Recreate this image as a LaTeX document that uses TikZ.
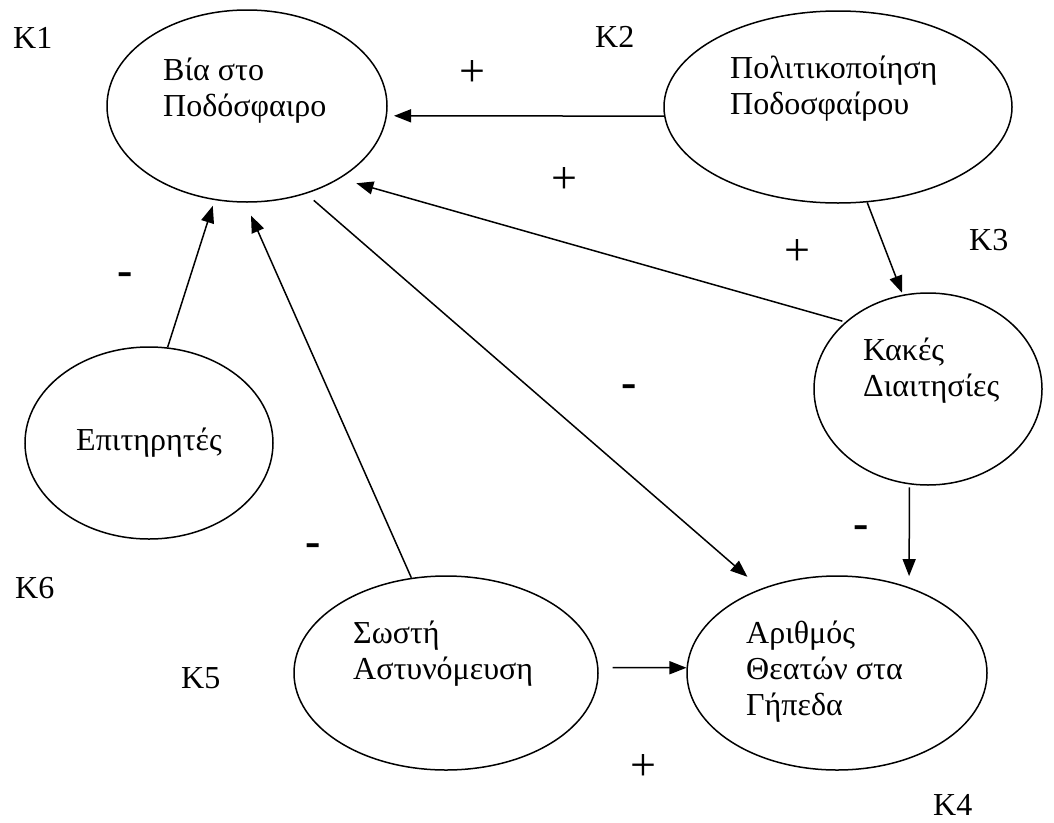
\documentclass[tikz,border=0pt]{standalone}
\usepackage{fontspec}
\setmainfont{Liberation Serif}
\usetikzlibrary{arrows.meta,shapes.geometric}
\begin{document}
\begin{tikzpicture}[x=1pt,y=-1pt,
  ell/.style={draw, ellipse, line width=1.5pt, inner sep=0pt},
  conn/.style={line width=1.5pt, -{Triangle[length=17pt,width=13pt]}},
  txt/.style={anchor=base west, inner sep=0pt, font=\fontsize{32}{36}\selectfont},
  klab/.style={anchor=base west, inner sep=0pt, font=\fontsize{32}{36}\selectfont},
  plussign/.style={inner sep=0pt, font=\fontsize{46}{50}\selectfont},
  minussign/.style={inner sep=0pt, font=\fontsize{46}{50}\selectfont\bfseries}]
\useasboundingbox (0,0) rectangle (1054,822);
% ellipses
\node[ell, minimum width=280pt, minimum height=192pt] (e1) at (247,106) {};
\node[ell, minimum width=348pt, minimum height=192pt] (e2) at (838,107) {};
\node[ell, minimum width=228pt, minimum height=192pt] (e3) at (928,389) {};
\node[ell, minimum width=300pt, minimum height=194pt] (e4) at (837,673) {};
\node[ell, minimum width=304pt, minimum height=194pt] (e5) at (446,673) {};
\node[ell, minimum width=248pt, minimum height=192pt] (e6) at (149,443) {};
% texts
\node[txt] (t1) at (163,80) {\vtop{\hbox{Βία στο}\hbox{Ποδόσφαιρο}}};
\node[txt] (t2) at (730,78) {\vtop{\hbox{Πολιτικοποίηση}\hbox{Ποδοσφαίρου}}};
\node[txt] (t3) at (863,360) {\vtop{\hbox{Κακές}\hbox{Διαιτησίες}}};
\node[txt] (t4) at (746,643) {\vtop{\hbox{Αριθμός}\hbox{Θεατών στα}\hbox{Γήπεδα}}};
\node[txt] (t5) at (353,643) {\vtop{\hbox{Σωστή}\hbox{Αστυνόμευση}}};
\node[txt] (t6) at (76,450) {Επιτηρητές};
% K labels
\node[klab] (k1) at (13,48) {K1};
\node[klab] (k2) at (595,47) {K2};
\node[klab] (k3) at (969,250) {K3};
\node[klab] (k4) at (933,815) {K4};
\node[klab] (k5) at (181,688) {K5};
\node[klab] (k6) at (15,598) {K6};
% connectors
\draw[conn, shorten >=7pt] (e2.183) -- (e1.-4);
\draw[conn, shorten <=3pt, shorten >=17pt] (e3.141) -- (e1.-38);
\draw[conn, shorten <=10pt, shorten >=18pt] (e1.-56) -- (e4.132);
\draw[conn, shorten >=6pt] (e6.79) -- (e1.251);
\draw[conn, shorten >=14pt] (e5.110) -- (e1.269);
\draw[conn, shorten >=2pt] (e2.287) -- (e3.105);
\draw[conn, shorten <=3pt, shorten >=11pt] (e3.259) -- (e4.50);
\draw[conn, shorten <=14pt] (e5.2) -- (e4.178);
% signs
\node[plussign] (p1) at (472,74) {+};
\node[plussign] (p2) at (564,181) {+};
\node[plussign] (p3) at (797,253) {+};
\node[plussign] (p4) at (643,767) {+};
\node[minussign] (n1) at (125,279) {-};
\node[minussign] (n2) at (629,391) {-};
\node[minussign] (n3) at (861,532) {-};
\node[minussign] (n4) at (313,550) {-};
\end{tikzpicture}
\end{document}
